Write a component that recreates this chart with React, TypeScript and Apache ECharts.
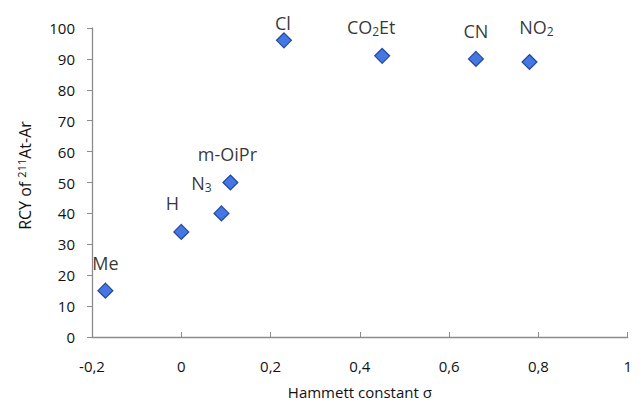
import React, { useEffect, useRef } from "react";
import * as echarts from "echarts";

const substituents = ["Me", "H", "N3", "m-OiPr", "Cl", "CO2Et", "CN", "NO2"];
const labelTexts = ["Me", "H", "N{s|3}", "m-OiPr", "Cl", "CO{s|2}Et", "CN", "NO{s|2}"];
const hammettSigma = [-0.17, 0, 0.09, 0.11, 0.23, 0.45, 0.66, 0.78];
const rcyValues = [15, 34, 40, 50, 96, 91, 90, 89];
const labelOffsets: number[][] = [
  [0, -28],
  [-9, -29],
  [-20, -30],
  [-3, -29],
  [-1, -17],
  [-11, -29],
  [0, -28],
  [7, -35],
];

const FONT = "'Open Sans', sans-serif";

export default function App() {
  const ref = useRef<HTMLDivElement>(null);
  useEffect(() => {
    if (!ref.current) return;
    const chart = echarts.init(ref.current, null, { renderer: "svg" });
    const data = hammettSigma.map((x, i) => ({
      name: substituents[i],
      value: [x, rcyValues[i]],
      label: {
        show: true,
        position: "inside",
        offset: labelOffsets[i],
        formatter: labelTexts[i],
      },
    }));
    chart.setOption({
      animation: false,
      grid: { left: 81, right: 6, top: 20, bottom: 64, containLabel: false },
      xAxis: {
        type: "value",
        min: -0.2,
        max: 1,
        interval: 0.2,
        name: "Hammett constant σ",
        nameLocation: "middle",
        nameGap: 47,
        nameTextStyle: { fontFamily: FONT, fontSize: 15, color: "#111" },
        axisLine: { show: true, onZero: false, lineStyle: { color: "#8c8c8c", width: 1.3 } },
        axisTick: { show: true, inside: true, length: 5, lineStyle: { color: "#8c8c8c" } },
        splitLine: { show: false },
        axisLabel: {
          margin: 21,
          fontFamily: FONT,
          fontSize: 15,
          color: "#111",
          formatter: (v: number) => String(Number(v.toFixed(1))).replace(".", ","),
        },
      },
      yAxis: {
        type: "value",
        min: 0,
        max: 100,
        interval: 10,
        name: "RCY of {sup|211}At-Ar",
        nameLocation: "middle",
        nameGap: 58,
        nameTextStyle: {
          fontFamily: FONT,
          fontSize: 16,
          color: "#111",
          padding: [0, 0, 0, 14],
          rich: {
            sup: { fontFamily: FONT, fontSize: 11, color: "#111", padding: [0, 0, 7, 0] },
          },
        },
        axisLine: { show: true, onZero: false, lineStyle: { color: "#8c8c8c", width: 1.3 } },
        axisTick: { show: true, inside: false, length: 5, lineStyle: { color: "#8c8c8c" } },
        splitLine: { show: false },
        axisLabel: { margin: 17, fontFamily: FONT, fontSize: 15, color: "#111" },
      },
      series: [
        {
          type: "scatter",
          symbol: "diamond",
          symbolSize: 15,
          itemStyle: { color: "#1655dc", borderColor: "#0b2e86", borderWidth: 1.2 },
          label: {
            fontFamily: FONT,
            fontSize: 18,
            color: "#000",
            rich: {
              s: { fontFamily: FONT, fontSize: 12, color: "#000", padding: [9, 0, 0, 0] },
            },
          },
          data,
        },
      ],
    });
    return () => chart.dispose();
  }, []);
  return <div ref={ref} style={{ width: 627, height: 396 }} />;
}
